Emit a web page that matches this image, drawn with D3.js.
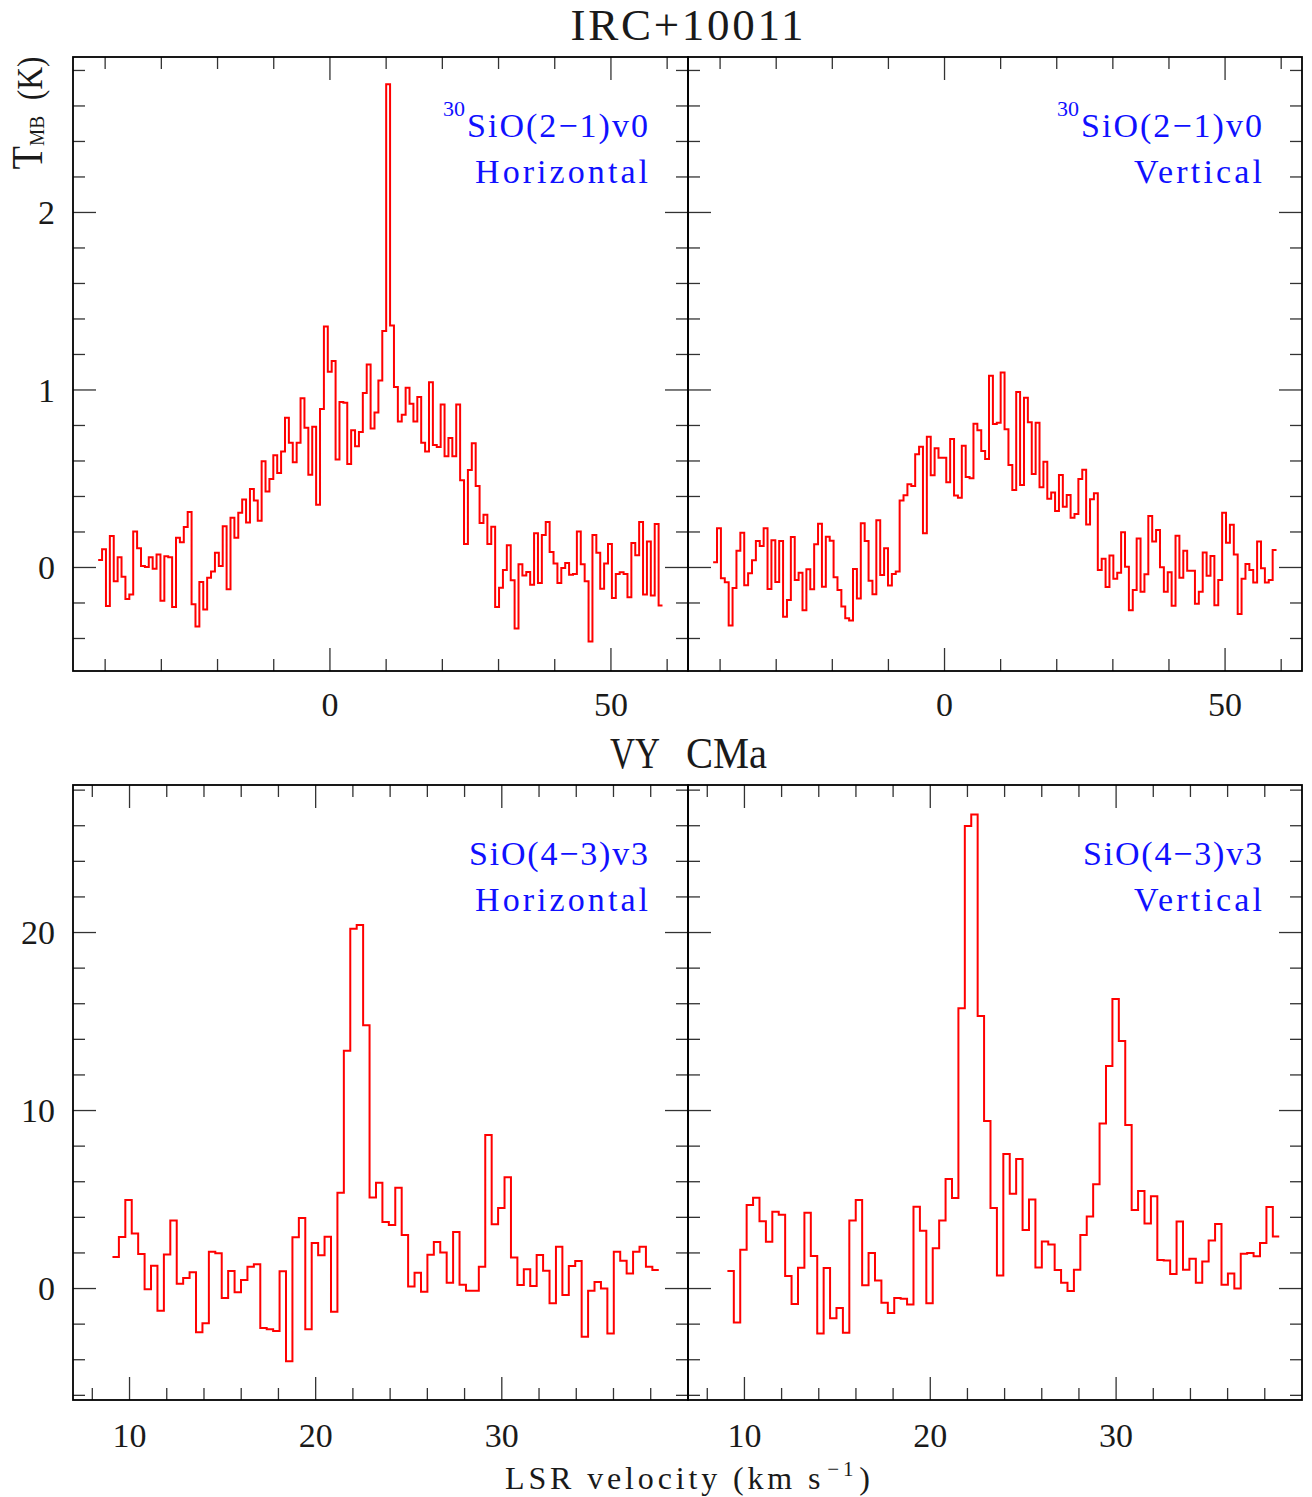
<!DOCTYPE html>
<html><head><meta charset="utf-8">
<script src="https://cdn.jsdelivr.net/npm/d3@7"></script>
<style>body{margin:0;background:#fff}</style>
</head><body>
<svg id="chart" width="1312" height="1497" xmlns="http://www.w3.org/2000/svg"></svg>
<script>
// ---------------- DATA ----------------
// IRC+10011, 30SiO(2-1)v0 spectra, TMB (K) per channel
const ircHorizontal = [
 0.04,0.10,-0.22,0.175,-0.08,0.055,-0.055,-0.18,-0.155,0.20,
 0.105,0.005,0.0,0.055,-0.01,0.07,-0.19,0.06,0.055,-0.225,
 0.165,0.14,0.225,0.31,-0.21,-0.335,-0.085,-0.24,-0.06,-0.025,
 0.08,0.005,0.23,-0.125,0.277,0.165,0.305,0.38,0.25,0.44,
 0.375,0.26,0.595,0.425,0.495,0.63,0.53,0.65,0.84,0.70,
 0.59,0.70,0.95,0.785,0.52,0.79,0.35,0.89,1.355,1.10,
 1.16,0.605,0.93,0.925,0.58,0.77,0.68,0.76,0.98,1.14,
 0.78,0.87,1.05,1.33,2.72,1.36,1.014,0.82,0.857,1.01,
 0.92,0.82,0.958,0.70,0.65,1.04,0.687,0.676,0.916,0.624,
 0.727,0.624,0.916,0.488,0.13,0.546,0.697,0.456,0.248,0.294,
 0.13,0.227,-0.225,-0.117,-0.017,0.123,-0.075,-0.346,0.015,-0.048,
 -0.028,-0.10,0.19,-0.09,0.18,0.254,0.085,0.019,-0.09,-0.006,
 0.022,-0.044,-0.04,0.20,0.015,-0.08,-0.42,0.18,0.08,-0.123,
 0.019,0.13,-0.175,-0.04,-0.03,-0.04,-0.17,0.135,0.066,0.254,
 -0.155,0.144,-0.16,0.242,-0.217
];
const ircVertical = [
 0.026,0.218,-0.064,-0.086,-0.33,-0.118,0.092,0.193,-0.103,-0.036,
 0.038,0.146,0.118,0.218,-0.124,0.15,-0.085,0.146,-0.28,-0.186,
 0.169,-0.073,-0.032,-0.244,-0.013,-0.126,0.128,0.244,-0.111,0.171,
 0.148,-0.058,-0.13,-0.223,-0.289,-0.302,-0.011,-0.177,0.246,0.146,
 -0.077,-0.154,0.263,-0.045,0.105,-0.105,-0.039,-0.026,0.374,0.404,
 0.466,0.456,0.635,0.678,0.19,0.734,0.517,0.669,0.616,0.616,
 0.477,0.721,0.402,0.39,0.683,0.507,0.50,0.807,0.77,0.653,
 0.608,1.078,0.805,0.813,1.095,0.776,0.575,0.434,0.986,0.462,
 0.954,0.815,0.524,0.813,0.449,0.593,0.385,0.419,0.315,0.518,
 0.34,0.406,0.278,0.299,0.496,0.548,0.24,0.381,0.415,-0.017,
 0.047,-0.113,0.064,-0.066,-0.032,0.195,0.002,-0.244,-0.13,0.16,
 -0.139,-0.041,0.287,0.143,0.208,-0.002,-0.139,-0.03,-0.218,0.176,
 -0.06,0.092,-0.021,-0.021,-0.207,-0.139,0.081,-0.049,0.062,-0.216,
 -0.073,0.306,0.137,0.238,0.071,-0.265,-0.066,0.017,-0.017,-0.088,
 0.143,-0.007,-0.088,-0.073,0.096
];
// VY CMa, SiO(4-3)v3 spectra
const vyHorizontal = [
 1.74,2.87,4.94,3.07,1.91,-0.07,1.25,-1.27,1.89,3.80,
 0.24,0.56,0.88,-2.49,-1.98,2.04,1.95,-0.56,0.96,-0.24,
 0.45,1.20,1.33,-2.25,-2.32,-2.42,0.94,-4.12,2.85,3.93,
 -2.32,2.53,1.84,2.88,-1.33,5.36,13.33,20.19,20.39,14.76,
 5.09,5.92,3.71,3.54,5.64,2.98,0.08,0.86,-0.21,1.87,
 2.58,2.00,0.30,3.15,0.19,-0.15,-0.15,1.20,8.60,3.58,
 4.49,6.22,1.72,0.17,1.05,0.11,1.85,0.97,-0.86,2.32,
 -0.39,1.24,1.52,-2.73,-0.15,0.34,-0.02,-2.55,2.04,1.53,
 0.82,2.04,2.32,1.20,1.01
];
const vyVertical = [
 0.96,-1.93,2.15,4.66,5.07,3.75,2.60,4.29,4.12,0.67,
 -0.90,1.14,4.23,1.80,-2.55,1.12,-1.70,-1.12,-2.51,3.80,
 4.94,0.15,1.97,0.43,-0.83,-1.40,-0.56,-0.60,-0.92,4.57,
 3.22,-0.86,2.23,3.80,6.12,5.06,15.72,25.95,26.60,15.28,
 9.38,4.50,0.71,7.53,5.29,7.25,3.26,4.97,1.15,2.62,
 2.44,1.01,0.29,-0.17,1.03,2.98,4.02,5.83,9.24,12.47,
 16.24,13.88,9.16,4.38,5.45,3.62,5.15,1.57,1.55,0.79,
 3.74,1.03,1.64,0.29,1.49,2.67,3.60,0.19,0.81,-0.03,
 1.93,1.97,1.78,2.53,4.55,2.90
];
// channel grids (first channel left edge, channel width in km/s)
const ircVelStart = -41.15, ircChanWidth = 0.6925;
const vyVelStart = 9.11, vyChanWidth = 0.3453;

// axis ranges and ticks
const ircXDomain = [-45.63, 63.8];
const ircYDomain = [-0.586, 2.873];
const vyXDomain = [6.99, 40.03];
const vyYDomain = [-6.29, 28.26];
const ircXMajor = [0, 50];
const ircXMinor = [-40, -30, -20, -10, 10, 20, 30, 40, 60];
const ircYMajor = [0, 1, 2];
const ircYMinor = [-0.4, -0.2, 0.2, 0.4, 0.6, 0.8, 1.2, 1.4, 1.6, 1.8, 2.2, 2.4, 2.6, 2.8];
const vyXMajor = [10, 20, 30];
const vyXMinor = [8, 12, 14, 16, 18, 22, 24, 26, 28, 32, 34, 36, 38];
const vyYMajor = [0, 10, 20];
const vyYMinor = [-6, -4, -2, 2, 4, 6, 8, 12, 14, 16, 18, 22, 24, 26, 28];

// texts
const sourceTitles = ["IRC+10011", "VY CMa"];
const lineNames = ["SiO(2\u22121)v0", "SiO(4\u22123)v3"];
const lineIsotope = ["30", ""];
const polarisations = ["Horizontal", "Vertical"];

// ---------------- DRAWING ----------------
const svg = d3.select("#chart");
svg.append("rect").attr("width", 1312).attr("height", 1497).attr("fill", "#fff");
const FONT = "Liberation Serif";

const panels = [
  {x0: 73, x1: 688, y0: 57, y1: 671, data: ircHorizontal, v0: ircVelStart, dv: ircChanWidth,
   xd: ircXDomain, yd: ircYDomain, xM: ircXMajor, xm: ircXMinor, yM: ircYMajor, ym: ircYMinor,
   yLab: true, line: 0, pol: 0},
  {x0: 688, x1: 1302, y0: 57, y1: 671, data: ircVertical, v0: ircVelStart, dv: ircChanWidth,
   xd: ircXDomain, yd: ircYDomain, xM: ircXMajor, xm: ircXMinor, yM: ircYMajor, ym: ircYMinor,
   yLab: false, line: 0, pol: 1},
  {x0: 73, x1: 688, y0: 785, y1: 1400, data: vyHorizontal, v0: vyVelStart, dv: vyChanWidth,
   xd: vyXDomain, yd: vyYDomain, xM: vyXMajor, xm: vyXMinor, yM: vyYMajor, ym: vyYMinor,
   yLab: true, line: 1, pol: 0},
  {x0: 688, x1: 1302, y0: 785, y1: 1400, data: vyVertical, v0: vyVelStart, dv: vyChanWidth,
   xd: vyXDomain, yd: vyYDomain, xM: vyXMajor, xm: vyXMinor, yM: vyYMajor, ym: vyYMinor,
   yLab: false, line: 1, pol: 1}
];
const lineWidths = [181, 179];
const polWidths = [173, 128];

function styleTicks(g) {
  g.select(".domain").remove();
  g.selectAll(".tick line").attr("stroke", "#333").attr("stroke-width", 1.3);
  g.selectAll(".tick text").remove();
}

panels.forEach(p => {
  const x = d3.scaleLinear().domain(p.xd).range([p.x0, p.x1]);
  const y = d3.scaleLinear().domain(p.yd).range([p.y1, p.y0]);
  const g = svg.append("g");

  // inward ticks on four sides
  [[p.xm, 12], [p.xM, 23]].forEach(([vals, size]) => {
    g.append("g").attr("transform", `translate(0,${p.y1})`)
      .call(d3.axisTop(x).tickValues(vals).tickSize(size)).call(styleTicks);
    g.append("g").attr("transform", `translate(0,${p.y0})`)
      .call(d3.axisBottom(x).tickValues(vals).tickSize(size)).call(styleTicks);
  });
  [[p.ym, 12], [p.yM, 23]].forEach(([vals, size]) => {
    g.append("g").attr("transform", `translate(${p.x0},0)`)
      .call(d3.axisRight(y).tickValues(vals).tickSize(size)).call(styleTicks);
    g.append("g").attr("transform", `translate(${p.x1},0)`)
      .call(d3.axisLeft(y).tickValues(vals).tickSize(size)).call(styleTicks);
  });

  // tick labels
  const xl = g.append("g").attr("transform", `translate(0,${p.y1})`)
    .call(d3.axisBottom(x).tickValues(p.xM).tickSize(0).tickFormat(d3.format("d")));
  xl.select(".domain").remove();
  xl.selectAll(".tick text").attr("y", p.y0 < 700 ? 45 : 47).attr("dy", null)
    .attr("font-family", FONT).attr("font-size", 34).attr("fill", "#1a1a1a");
  if (p.yLab) {
    const yl = g.append("g").attr("transform", `translate(${p.x0},0)`)
      .call(d3.axisLeft(y).tickValues(p.yM).tickSize(0).tickPadding(18).tickFormat(d3.format("d")));
    yl.select(".domain").remove();
    yl.selectAll(".tick text").attr("dy", "0.34em")
      .attr("font-family", FONT).attr("font-size", 34).attr("fill", "#1a1a1a");
  }

  // spectrum as histogram steps
  const pts = p.data.map((t, i) => [p.v0 + i * p.dv, t]);
  pts.push([p.v0 + p.data.length * p.dv, p.data[p.data.length - 1]]);
  g.append("path").datum(pts)
    .attr("fill", "none").attr("stroke", "#ff0000").attr("stroke-width", 2)
    .attr("stroke-linejoin", "miter")
    .attr("d", d3.line().x(d => x(d[0])).y(d => y(d[1])).curve(d3.curveStepAfter));

  // frame
  g.append("rect").attr("x", p.x0).attr("y", p.y0)
    .attr("width", p.x1 - p.x0).attr("height", p.y1 - p.y0)
    .attr("fill", "none").attr("stroke", "#000").attr("stroke-width", 1.8);

  // labels
  const xr = p.x1 - 40;
  g.append("text").attr("x", xr).attr("y", p.y0 + 80).attr("text-anchor", "end")
    .attr("font-family", FONT).attr("font-size", 34).attr("fill", "#1010ff")
    .attr("textLength", lineWidths[p.line]).attr("lengthAdjust", "spacing")
    .text(lineNames[p.line]);
  if (lineIsotope[p.line]) {
    g.append("text").attr("x", xr - lineWidths[p.line] - 2).attr("y", p.y0 + 59)
      .attr("text-anchor", "end").attr("font-family", FONT).attr("font-size", 22)
      .attr("fill", "#1010ff").text(lineIsotope[p.line]);
  }
  g.append("text").attr("x", xr).attr("y", p.y0 + 126).attr("text-anchor", "end")
    .attr("font-family", FONT).attr("font-size", 34).attr("fill", "#1010ff")
    .attr("textLength", polWidths[p.pol]).attr("lengthAdjust", "spacing")
    .text(polarisations[p.pol]);
});

// titles
svg.append("text").attr("x", 687).attr("y", 40).attr("text-anchor", "middle")
  .attr("font-family", FONT).attr("font-size", 45).attr("fill", "#1a1a1a")
  .attr("textLength", 233).attr("lengthAdjust", "spacing").text(sourceTitles[0]);
// second title: words placed separately (wide inter-word gap as in the original)
const vyWords = sourceTitles[1].split(" ");
const vyWordPos = [[610, 50], [686, 81]];
vyWords.forEach((w, i) => {
  svg.append("text").attr("x", vyWordPos[i][0]).attr("y", 768)
    .attr("font-family", FONT).attr("font-size", 45).attr("fill", "#1a1a1a")
    .attr("textLength", vyWordPos[i][1]).attr("lengthAdjust", "spacingAndGlyphs").text(w);
});

// y-axis title
const yt = svg.append("text").attr("transform", "translate(42,113) rotate(-90)")
  .attr("text-anchor", "middle").attr("font-family", FONT).attr("fill", "#1a1a1a")
  .attr("textLength", 113).attr("lengthAdjust", "spacingAndGlyphs");
yt.append("tspan").attr("font-size", 44).text("T");
yt.append("tspan").attr("font-size", 22).attr("dy", 2).text("MB");
yt.append("tspan").attr("font-size", 36).attr("dy", -2).text("\u00a0\u00a0(K)");

// x-axis title
const xt = svg.append("text").attr("x", 687.5).attr("y", 1489).attr("text-anchor", "middle")
  .attr("font-family", FONT).attr("fill", "#1a1a1a")
  .attr("textLength", 365).attr("lengthAdjust", "spacing");
xt.append("tspan").attr("font-size", 32).text("LSR velocity (km s");
xt.append("tspan").attr("font-size", 21).attr("dy", -13).attr("dx", 3).text("\u22121");
xt.append("tspan").attr("font-size", 32).attr("dy", 13).attr("dx", 2).text(")");
</script>
</body></html>
